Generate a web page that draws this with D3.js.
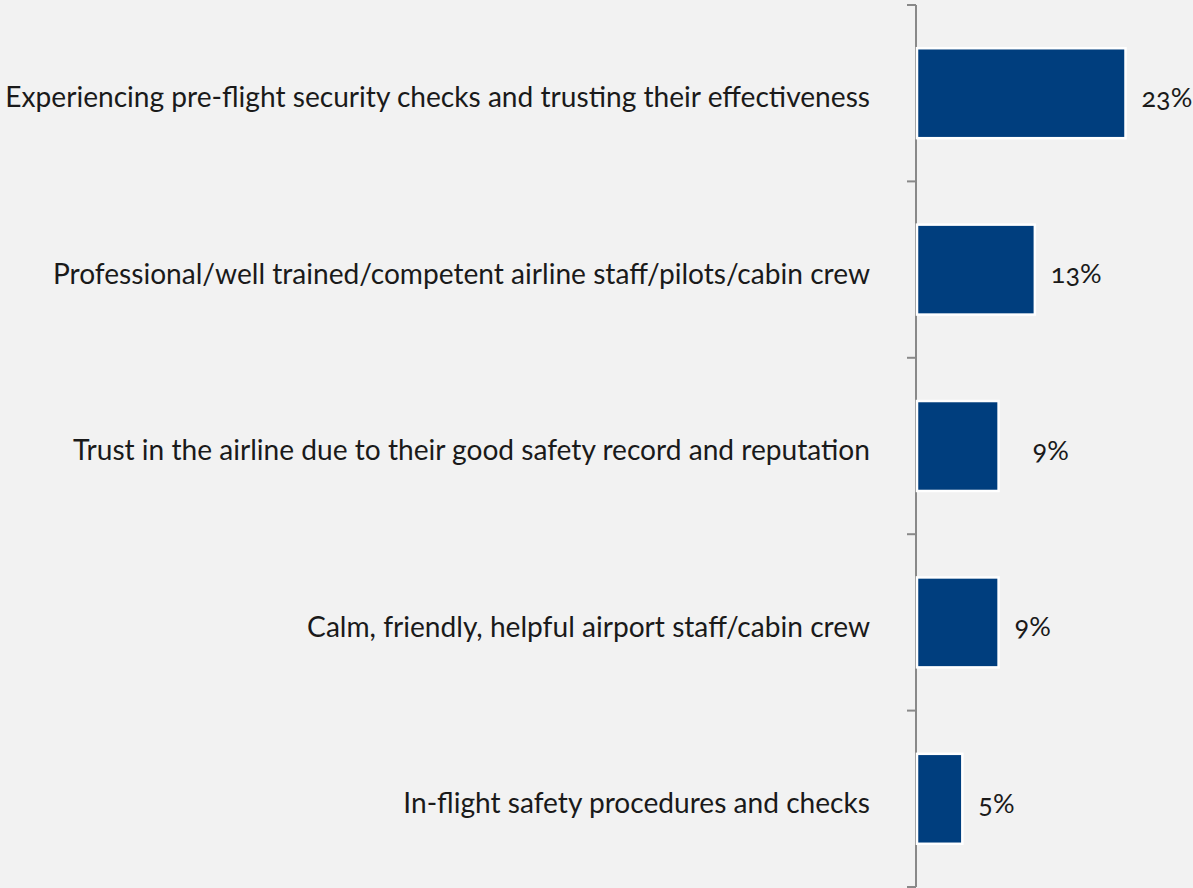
<!DOCTYPE html>
<html><head><meta charset="utf-8">
<script src="https://cdn.jsdelivr.net/npm/d3@7"></script>
<style>
html,body{margin:0;padding:0;background:#f2f2f2;}
svg{display:block;}
text{font-family:Lato,"Open Sans",sans-serif;fill:#1a1a1a;font-feature-settings:"onum";}
</style></head>
<body><svg id="c" width="1193" height="888"></svg>
<script>
const categories = [
  "Experiencing pre-flight security checks and trusting their effectiveness",
  "Professional/well trained/competent airline staff/pilots/cabin crew",
  "Trust in the airline due to their good safety record and reputation",
  "Calm, friendly, helpful airport staff/cabin crew",
  "In-flight safety procedures and checks"
];
const values = [23, 13, 9, 9, 5];
const valueLabels = ["23%", "13%", "9%", "9%", "5%"];

(function(){
const W = 1193, H = 888;
const axisX = 916, yTop = 5, yBottom = 887;
const svg = d3.select("#c");
svg.append("rect").attr("width", W).attr("height", H).attr("fill", "#f2f2f2");

const y = d3.scaleBand().domain(categories).range([yTop, yBottom]).paddingInner(0.49).paddingOuter(0.245);
const x = d3.scaleLinear().domain([0, 23]).range([axisX + 1, axisX + 1 + 208.5]);

const step = (yBottom - yTop) / categories.length;
const g = svg.append("g");
g.append("line").attr("x1", axisX).attr("x2", axisX).attr("y1", yTop).attr("y2", yBottom)
  .attr("stroke", "#898989").attr("stroke-width", 2);
d3.range(categories.length + 1).forEach(i => {
  g.append("line").attr("x1", axisX - 9).attr("x2", axisX).attr("y1", yTop + i * step).attr("y2", yTop + i * step)
    .attr("stroke", "#898989").attr("stroke-width", 2);
});

svg.selectAll("rect.bar").data(values).enter().append("rect").attr("class", "bar")
  .attr("x", x(0)).attr("y", (d, i) => y(categories[i]))
  .attr("width", d => x(d) - x(0)).attr("height", y.bandwidth())
  .attr("fill", "#003e7e").attr("stroke", "#ffffff").attr("stroke-width", 2.5);

const fs = 25.5;
const labs = svg.selectAll("text.cat").data(categories).enter().append("text").attr("class", "cat")
  .attr("x", 870).attr("y", d => y(d) + y.bandwidth() / 2 + 7)
  .attr("text-anchor", "end").attr("dominant-baseline", "middle")
  .style("font-size", fs + "px").text(d => d);

const w0 = labs.nodes()[0].getComputedTextLength();
const k = 865 / w0;
labs.style("font-size", (fs * k) + "px");

svg.selectAll("text.val").data(values).enter().append("text").attr("class", "val")
  .attr("x", (d, i) => x(d) + 16 + (i === 2 ? 18 : 0))
  .attr("y", (d, i) => y(categories[i]) + y.bandwidth() / 2 + 7)
  .attr("dominant-baseline", "middle")
  .style("font-size", (fs * k * 0.96) + "px")
  .text((d, i) => valueLabels[i]);
})();
</script></body></html>
